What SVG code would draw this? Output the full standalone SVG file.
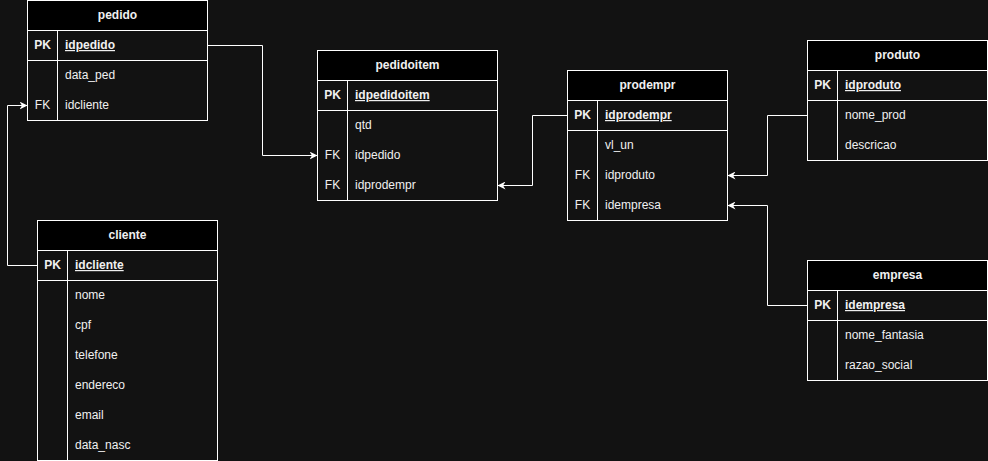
<svg xmlns="http://www.w3.org/2000/svg" width="988" height="461" viewBox="0 0 988 461">
<defs>
<marker id="arr" viewBox="0 0 10 10" refX="10" refY="5" markerWidth="8" markerHeight="8" markerUnits="userSpaceOnUse" orient="auto">
<path d="M0,0 L10,5 L0,10 L3,5 Z" fill="#ffffff"/>
</marker>
</defs>
<style>
text{font-family:"Liberation Sans",Arial,sans-serif;font-size:12px;fill:#f0f0f0}
.h{font-weight:bold;text-anchor:middle}
.k{text-anchor:middle}
.pk{text-decoration:underline}
.hd{fill:#000000;stroke:#ffffff;stroke-width:1}
.bx{fill:#121212;stroke:#ffffff;stroke-width:1}
.ln{stroke:#ffffff;stroke-width:1;fill:none}
.c{stroke:#ffffff;stroke-width:1;fill:none;marker-end:url(#arr)}
</style>
<rect width="988" height="461" fill="#121212"/>

<g id="connectors">
<path class="c" d="M207.5,45.5 H262.5 V155.5 H317.5"/>
<path class="c" d="M37.5,265.5 H7.5 V105.5 H27.5"/>
<path class="c" d="M567.5,115.5 H532.5 V185.5 H497.5"/>
<path class="c" d="M807.5,115.5 H767.5 V175.5 H727.5"/>
<path class="c" d="M807.5,305.5 H767.5 V205.5 H727.5"/>
</g>

<g id="pedido">
<rect class="bx" x="27.5" y="0.5" width="180" height="120"/>
<rect class="hd" x="27.5" y="0.5" width="180" height="30"/>
<line class="ln" x1="27.5" y1="60.5" x2="207.5" y2="60.5"/>
<line class="ln" x1="57.5" y1="30.5" x2="57.5" y2="120.5"/>
<text class="h" x="117.5" y="19">pedido</text>
<text class="h" x="42.5" y="49">PK</text>
<text class="pk" x="65" y="49" font-weight="bold">idpedido</text>
<text x="65" y="79">data_ped</text>
<text class="k" x="42.5" y="109">FK</text>
<text x="65" y="109">idcliente</text>
</g>

<g id="pedidoitem">
<rect class="bx" x="317.5" y="50.5" width="180" height="150"/>
<rect class="hd" x="317.5" y="50.5" width="180" height="30"/>
<line class="ln" x1="317.5" y1="110.5" x2="497.5" y2="110.5"/>
<line class="ln" x1="347.5" y1="80.5" x2="347.5" y2="200.5"/>
<text class="h" x="407.5" y="69">pedidoitem</text>
<text class="h" x="332.5" y="99">PK</text>
<text class="pk" x="355" y="99" font-weight="bold">idpedidoitem</text>
<text x="355" y="129">qtd</text>
<text class="k" x="332.5" y="159">FK</text>
<text x="355" y="159">idpedido</text>
<text class="k" x="332.5" y="189">FK</text>
<text x="355" y="189">idprodempr</text>
</g>

<g id="prodempr">
<rect class="bx" x="567.5" y="70.5" width="160" height="150"/>
<rect class="hd" x="567.5" y="70.5" width="160" height="30"/>
<line class="ln" x1="567.5" y1="130.5" x2="727.5" y2="130.5"/>
<line class="ln" x1="597.5" y1="100.5" x2="597.5" y2="220.5"/>
<text class="h" x="647.5" y="89">prodempr</text>
<text class="h" x="582.5" y="119">PK</text>
<text class="pk" x="605" y="119" font-weight="bold">idprodempr</text>
<text x="605" y="149">vl_un</text>
<text class="k" x="582.5" y="179">FK</text>
<text x="605" y="179">idproduto</text>
<text class="k" x="582.5" y="209">FK</text>
<text x="605" y="209">idempresa</text>
</g>

<g id="produto">
<rect class="bx" x="807.5" y="40.5" width="180" height="120"/>
<rect class="hd" x="807.5" y="40.5" width="180" height="30"/>
<line class="ln" x1="807.5" y1="100.5" x2="987.5" y2="100.5"/>
<line class="ln" x1="837.5" y1="70.5" x2="837.5" y2="160.5"/>
<text class="h" x="897.5" y="59">produto</text>
<text class="h" x="822.5" y="89">PK</text>
<text class="pk" x="845" y="89" font-weight="bold">idproduto</text>
<text x="845" y="119">nome_prod</text>
<text x="845" y="149">descricao</text>
</g>

<g id="empresa">
<rect class="bx" x="807.5" y="260.5" width="180" height="120"/>
<rect class="hd" x="807.5" y="260.5" width="180" height="30"/>
<line class="ln" x1="807.5" y1="320.5" x2="987.5" y2="320.5"/>
<line class="ln" x1="837.5" y1="290.5" x2="837.5" y2="380.5"/>
<text class="h" x="897.5" y="279">empresa</text>
<text class="h" x="822.5" y="309">PK</text>
<text class="pk" x="845" y="309" font-weight="bold">idempresa</text>
<text x="845" y="339">nome_fantasia</text>
<text x="845" y="369">razao_social</text>
</g>

<g id="cliente">
<rect class="bx" x="37.5" y="220.5" width="180" height="240"/>
<rect class="hd" x="37.5" y="220.5" width="180" height="30"/>
<line class="ln" x1="37.5" y1="280.5" x2="217.5" y2="280.5"/>
<line class="ln" x1="67.5" y1="250.5" x2="67.5" y2="460.5"/>
<text class="h" x="127.5" y="239">cliente</text>
<text class="h" x="52.5" y="269">PK</text>
<text class="pk" x="75" y="269" font-weight="bold">idcliente</text>
<text x="75" y="299">nome</text>
<text x="75" y="329">cpf</text>
<text x="75" y="359">telefone</text>
<text x="75" y="389">endereco</text>
<text x="75" y="419">email</text>
<text x="75" y="449">data_nasc</text>
</g>
</svg>
